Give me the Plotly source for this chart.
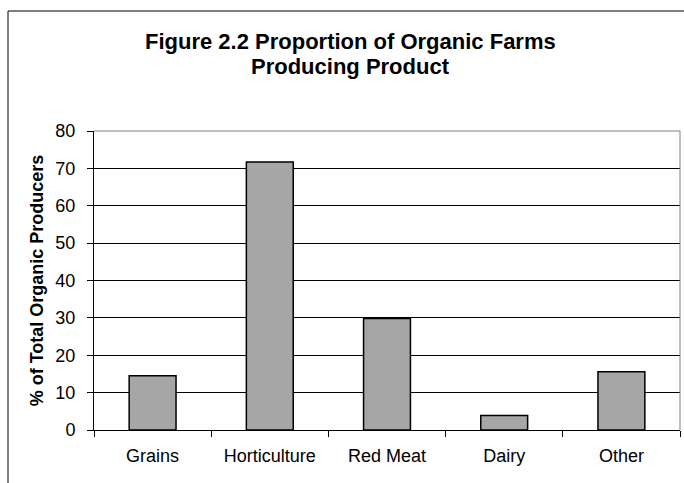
import plotly.graph_objects as go

categories = ["Grains", "Horticulture", "Red Meat", "Dairy", "Other"]
values = [14.5, 71.7, 29.8, 3.9, 15.6]
y_ticks = [0, 10, 20, 30, 40, 50, 60, 70, 80]
title_lines = ["Figure 2.2 Proportion of Organic Farms", "Producing Product"]
y_title = "% of Total Organic Producers"

W, H = 684, 483
L, R, T, B = 94, 4, 131, 53
pw, ph = W - L - R, H - T - B

def px_x(x):
    return (x - L) / pw

def px_y(y):
    return (H - B - y) / ph

font_family = "Arial, Liberation Sans, sans-serif"

fig = go.Figure()
fig.add_trace(go.Bar(
    x=categories, y=values,
    marker=dict(color="#A6A6A6", line=dict(color="#000000", width=1.5)),
    showlegend=False,
))

annotations = []
for text, ymid in zip(title_lines, [41.5, 66.5]):
    annotations.append(dict(
        text="<b>" + text + "</b>", showarrow=False,
        xref="paper", yref="paper", x=px_x(350), y=px_y(ymid),
        xanchor="center", yanchor="middle",
        font=dict(family=font_family, size=22, color="black"),
    ))

fig.update_layout(
    width=W, height=H,
    margin=dict(l=L, r=R, t=T, b=B, pad=0),
    paper_bgcolor="white", plot_bgcolor="white",
    bargap=0.6,
    font=dict(family=font_family, size=18, color="black"),
    annotations=annotations,
    xaxis=dict(
        type="category",
        showgrid=False,
        showline=True, linecolor="#000000", linewidth=1,
        ticks="outside", ticklen=6, tickcolor="#000000", tickwidth=1,
        tickson="boundaries",
        ticklabelstandoff=9,
        tickfont=dict(size=18),
        zeroline=False,
    ),
    yaxis=dict(
        range=[0, 80],
        tickvals=y_ticks,
        showgrid=True, gridcolor="#000000", gridwidth=1,
        showline=True, linecolor="#000000", linewidth=1,
        ticks="outside", ticklen=6, tickcolor="#000000", tickwidth=1,
        ticklabelstandoff=8,
        tickfont=dict(size=18),
        zeroline=False,
        title=dict(text="<b>" + y_title + "</b>", standoff=7,
                   font=dict(size=18)),
    ),
    shapes=[
        dict(type="line", xref="paper", yref="paper", x0=0, x1=1, y0=1, y1=1,
             line=dict(color="#808080", width=1)),
        dict(type="line", xref="paper", yref="paper", x0=1, x1=1, y0=0, y1=1,
             line=dict(color="#808080", width=1)),
        dict(type="rect", xref="paper", yref="paper",
             x0=px_x(8), x1=px_x(700), y0=px_y(11), y1=px_y(500),
             line=dict(color="#000000", width=1), fillcolor="rgba(0,0,0,0)",
             layer="below"),
    ],
)

fig.write_html("out.html")
